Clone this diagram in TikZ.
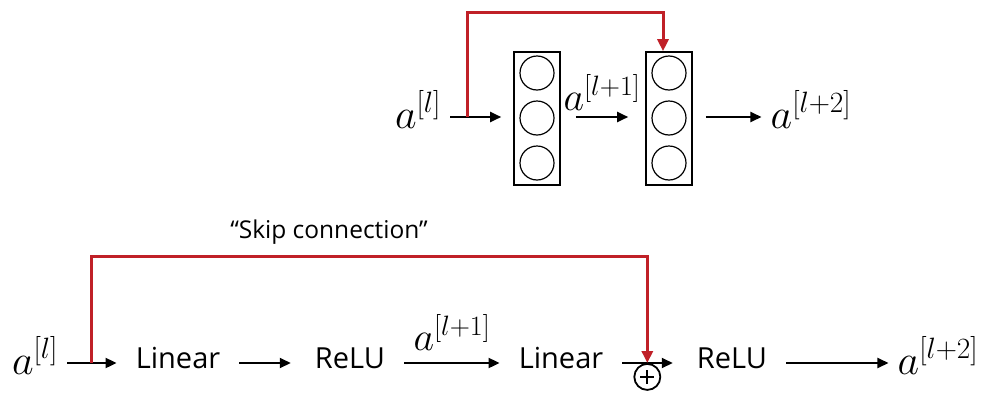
\documentclass[tikz,border=0pt]{standalone}
\usepackage{fix-cm}
\usepackage[no-math]{fontspec}
\setmainfont{Open Sans}
\usetikzlibrary{arrows.meta,calc}
\definecolor{skipred}{RGB}{192,32,40}
\tikzset{
  lbl/.style={inner xsep=19pt, inner ysep=0pt, text height=20pt, text depth=10pt,
    font=\fontsize{29}{32}\selectfont},
  mth/.style={inner xsep=9pt, inner ysep=0pt, text height=26pt, text depth=4pt,
    font=\fontsize{42}{44}\selectfont},
  sml/.style={inner sep=0pt, font=\fontsize{40}{42}\selectfont},
  flow/.style={-{Triangle[length=11pt,width=10pt]}, line width=1.9pt, black},
  skip/.style={-{Triangle[length=12pt,width=11pt]}, line width=3pt, skipred},
  layer/.style={draw, line width=1.6pt, minimum width=46pt, minimum height=133pt, inner sep=0pt},
  neuron/.style={draw, circle, line width=1.2pt, minimum size=34pt, inner sep=0pt},
  plus/.style={draw, circle, line width=1.8pt, minimum size=26pt, inner sep=0pt}
}
\begin{document}
\begin{tikzpicture}[x=1pt,y=-1pt]
\useasboundingbox (0,0) rectangle (984,394);
% ---------- top: two layers ----------
\node[mth] (ta) at (418,117) {$a^{[l]}$};
\node[layer] (l1) at (537,118.5) {};
\node[layer] (l2) at (669,118.5) {};
\foreach \n/\yy in {1/73,2/118,3/163}{
  \node[neuron] (c1\n) at (537,\yy) {};
  \node[neuron] (c2\n) at (669,\yy) {};
}
\node[mth] (tb) at (811,117) {$a^{[l+2]}$};
\draw[flow] (ta.east) -- ([xshift=-12pt]l1.west|-ta.east);
\draw[flow] ([xshift=15pt]l1.east|-ta.east) -- ([xshift=-17pt]l2.west|-ta.east) coordinate[pos=0.5] (mid1);
\node[sml, anchor=base] (tl1) at ([yshift=7pt]mid1) {$a^{[l+1]}$};
\draw[flow] ([xshift=13pt]l2.east|-ta.east) -- (tb.west);
\coordinate (ts) at ($(ta.east)!0.34!([xshift=-12pt]l1.west|-ta.east)$);
\draw[skip] (ts) -- ++(0,-105) -| ([xshift=-6pt]l2.north);
% ---------- bottom: chain ----------
\node[mth] (ba) at (35,363) {$a^{[l]}$};
\node[lbl] (lin1) at (178,363) {Linear};
\node[lbl] (relu1) at (350,363) {ReLU};
\node[lbl] (lin2) at (561,363) {Linear};
\node[lbl] (relu2) at (732,363) {ReLU};
\node[mth] (bb) at (938,363) {$a^{[l+2]}$};
\draw[flow] (ba.east) -- (lin1.west) coordinate[pos=0.5] (bs);
\draw[flow, shorten >=5pt] (lin1.east) -- (relu1.west);
\draw[flow] (relu1.east) -- (lin2.west) coordinate[pos=0.5] (mid2);
\node[sml, anchor=base] (bl1) at ([yshift=13pt]mid2) {$a^{[l+1]}$};
\draw[flow, shorten >=5pt] (lin2.east) -- (relu2.west) coordinate[pos=0.45] (mid3);
\node[plus, anchor=north] (pl) at (mid3) {};
\draw[line width=1.8pt] ([yshift=-7pt]pl.center) -- ([yshift=7pt]pl.center)
  ([xshift=-7pt]pl.center) -- ([xshift=7pt]pl.center);
\draw[flow] (relu2.east) -- (bb.west);
\draw[skip] (bs) -- ++(0,-107) -| (pl.north);
\node[inner sep=0pt, anchor=base, font=\fontsize{24.5}{28}\selectfont] (sc) at (329,238) {“Skip connection”};
\end{tikzpicture}
\end{document}
